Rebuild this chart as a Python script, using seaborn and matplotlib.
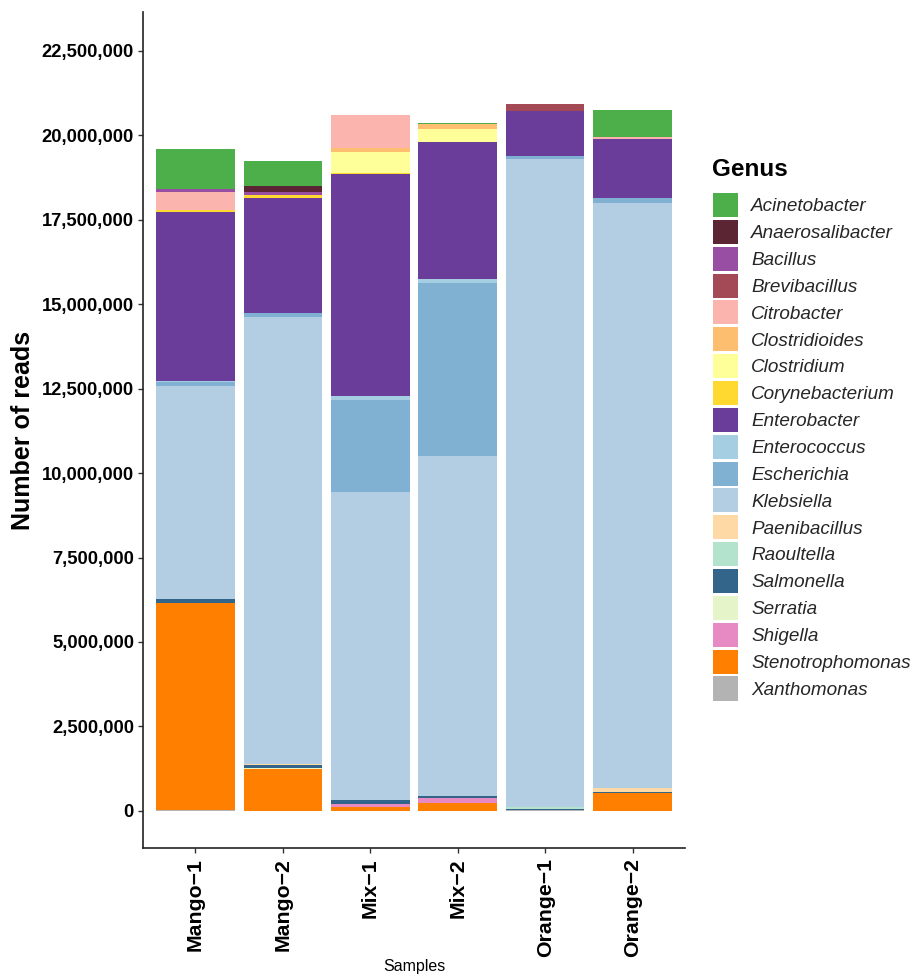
import matplotlib
matplotlib.use("Agg")
import matplotlib.pyplot as plt
from matplotlib.ticker import FuncFormatter, MultipleLocator
import pandas as pd
import seaborn as sns

# Samples (x axis)
samples = ["Mango\u22121", "Mango\u22122", "Mix\u22121", "Mix\u22122", "Orange\u22121", "Orange\u22122"]

# Read counts per genus, one value per sample (same order as `samples`)
acinetobacter    = [1190000,  740000,       0,   20000,       0,  800000]
anaerosalibacter = [      0,  170000,       0,       0,       0,       0]
bacillus         = [  90000,   90000,       0,       0,       0,       0]
brevibacillus    = [      0,       0,       0,       0,  200000,       0]
citrobacter      = [ 530000,       0,  970000,   20000,       0,   60000]
clostridioides   = [      0,       0,  130000,  140000,       0,       0]
clostridium      = [      0,       0,  620000,  380000,       0,       0]
corynebacterium  = [  60000,   80000,   30000,       0,       0,       0]
enterobacter     = [5000000, 3420000, 6580000, 4060000, 1330000, 1740000]
enterococcus     = [  30000,       0,  120000,  120000,       0,       0]
escherichia      = [ 120000,  110000, 2720000, 5120000,  100000,  150000]
klebsiella       = [6300000,13240000, 9110000,10060000,19190000,17320000]
paenibacillus    = [      0,   30000,       0,       0,       0,  100000]
raoultella       = [      0,       0,       0,       0,   40000,       0]
salmonella       = [ 120000,   90000,  110000,   60000,   30000,   50000]
serratia         = [      0,   30000,       0,       0,       0,       0]
shigella         = [      0,       0,  100000,  150000,       0,       0]
stenotrophomonas = [6120000, 1230000,  110000,  230000,       0,  520000]
xanthomonas      = [  30000,       0,       0,       0,   30000,       0]

genera = ["Acinetobacter", "Anaerosalibacter", "Bacillus", "Brevibacillus",
          "Citrobacter", "Clostridioides", "Clostridium", "Corynebacterium",
          "Enterobacter", "Enterococcus", "Escherichia", "Klebsiella",
          "Paenibacillus", "Raoultella", "Salmonella", "Serratia", "Shigella",
          "Stenotrophomonas", "Xanthomonas"]
counts = [acinetobacter, anaerosalibacter, bacillus, brevibacillus,
          citrobacter, clostridioides, clostridium, corynebacterium,
          enterobacter, enterococcus, escherichia, klebsiella,
          paenibacillus, raoultella, salmonella, serratia, shigella,
          stenotrophomonas, xanthomonas]
colors = ["#4DAF4A", "#5B2533", "#984EA3", "#A44A57",
          "#FBB4AE", "#FDBF6F", "#FFFF99", "#FFD92F",
          "#6A3D9A", "#A6CEE3", "#80B1D3", "#B3CDE3",
          "#FED9A6", "#B3E2CD", "#33658A", "#E6F5C9", "#E78AC3",
          "#FF7F00", "#B3B3B3"]

rows = []
for g, vals in zip(genera, counts):
    for s, v in zip(samples, vals):
        rows.append({"Samples": s, "Genus": g, "Reads": v})
df = pd.DataFrame(rows)
df["Samples"] = pd.Categorical(df["Samples"], categories=samples, ordered=True)

sns.set_theme(style="ticks")
plt.rcParams["font.family"] = ["Liberation Sans", "DejaVu Sans"]

W, H = 912, 976
fig = plt.figure(figsize=(W / 100, H / 100), dpi=100)
ax = fig.add_axes([143 / W, 1 - 848 / H, (685 - 143) / W, (848 - 12) / H])

sns.histplot(data=df, x="Samples", weights="Reads", hue="Genus",
             hue_order=genera, palette=dict(zip(genera, colors)),
             multiple="stack", discrete=True, shrink=0.9, alpha=1,
             linewidth=0, edgecolor="none", ax=ax)

ax.set_xlim(-0.6, 5.6)
ax.set_ylim(-1.1e6, 23.65e6)
ax.yaxis.set_major_locator(MultipleLocator(2.5e6))
ax.yaxis.set_major_formatter(FuncFormatter(lambda v, p: f"{v:,.0f}"))
ax.set_xticks(range(len(samples)))
ax.set_xticklabels(samples, rotation=90, fontsize=15.3, fontweight="bold",
                   color="black")
for lab in ax.get_yticklabels():
    lab.set_fontsize(13.2)
    lab.set_fontweight("bold")
    lab.set_color("black")

for side in ("top", "right"):
    ax.spines[side].set_visible(False)
for side in ("left", "bottom"):
    ax.spines[side].set_color("#222222")
    ax.spines[side].set_linewidth(1.2)
ax.tick_params(axis="both", length=3.5, width=1.0, color="#333333")
ax.tick_params(axis="x", pad=4)
ax.tick_params(axis="y", pad=3)

ax.set_ylabel("Number of reads", fontsize=18, fontweight="bold",
              color="black", labelpad=5)
ax.set_xlabel("Samples", fontsize=11.5, color="black", labelpad=1.5)

# Legend on the right, rebuilt with italic genus names
old = ax.get_legend()
handles = old.legend_handles
labels = [t.get_text() for t in old.get_texts()]
old.remove()
fig.text(712 / W, 1 - 170 / H, "Genus", fontsize=17.5, fontweight="bold",
         ha="left", va="center", color="black")
leg = fig.legend(handles, labels, loc="upper left",
                 bbox_to_anchor=(713 / W, 1 - 193 / H), frameon=False,
                 prop={"style": "italic", "size": 13.6},
                 handlelength=1.32, handleheight=1.58, labelspacing=0.15,
                 handletextpad=0.7, borderpad=0, borderaxespad=0)

fig.savefig("out.png", dpi=100, facecolor="white")
